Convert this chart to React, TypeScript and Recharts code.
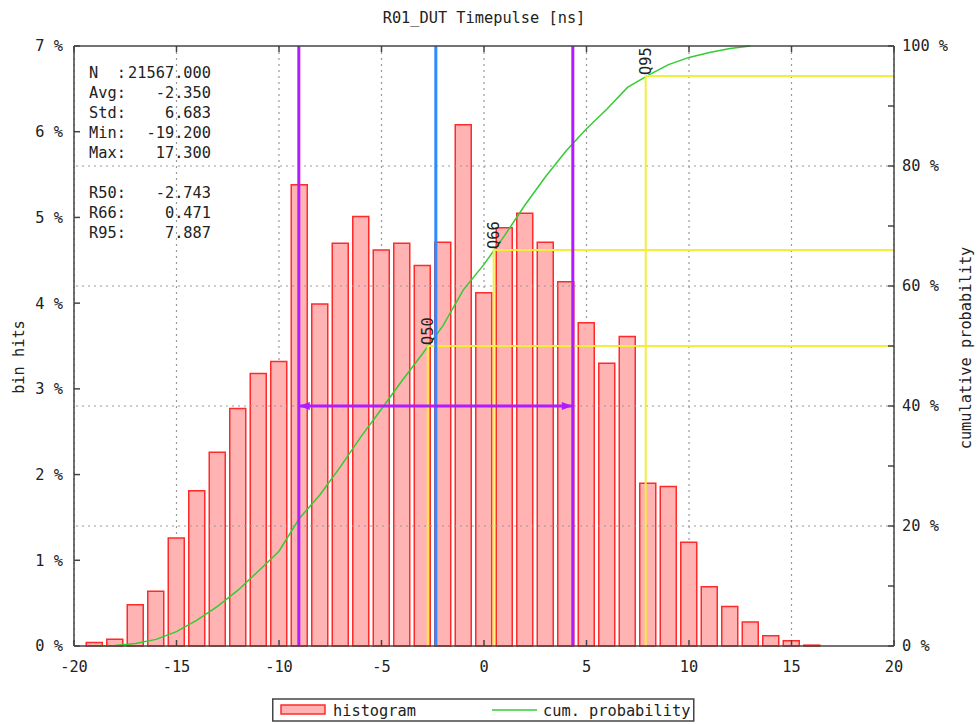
import { ComposedChart, Bar, Line, XAxis, YAxis, CartesianGrid, ReferenceLine, Legend } from "recharts"

const MONO = "DejaVu Sans Mono, monospace"
const FS = 15.3

// histogram bins (bin centre in ns) and hit share in %
const binCenters = [-19, -18, -17, -16, -15, -14, -13, -12, -11, -10, -9, -8, -7, -6, -5, -4, -3, -2, -1, 0, 1, 2, 3, 4, 5, 6, 7, 8, 9, 10, 11, 12, 13, 14, 15, 16]
const binHits = [0.04, 0.08, 0.48, 0.64, 1.26, 1.81, 2.26, 2.77, 3.18, 3.32, 5.38, 3.99, 4.7, 5.01, 4.62, 4.7, 4.44, 4.71, 6.08, 4.12, 4.88, 5.05, 4.71, 4.25, 3.77, 3.3, 3.61, 1.9, 1.86, 1.21, 0.69, 0.46, 0.28, 0.12, 0.06, 0.01]

// cumulative probability curve, %
const cumX = [-19, -18, -17, -16, -15, -14, -13, -12, -11, -10, -9, -8, -7, -6, -5, -4, -3, -2, -1, 0, 1, 2, 3, 4, 5, 6, 7, 8, 9, 10, 11, 12, 13]
const cumProb = [0, 0.1, 0.4, 1.1, 2.4, 4.3, 6.6, 9.3, 12.5, 15.8, 21.3, 25.2, 29.9, 34.9, 39.5, 44.2, 48.7, 53.4, 59.4, 63.6, 68.4, 73.5, 78.2, 82.5, 86.2, 89.5, 93.1, 95.1, 96.9, 98.1, 98.9, 99.6, 100]

const xTicks = [-20, -15, -10, -5, 0, 5, 10, 15, 20]
const hitTicks = [0, 1, 2, 3, 4, 5, 6, 7]
const probTicks = [0, 10, 20, 30, 40, 50, 60, 70, 80, 90, 100]
const probGrid = [20, 40, 60, 80]

const statLabels = ["N  :", "Avg:", "Std:", "Min:", "Max:", "", "R50:", "R66:", "R95:"]
const statValues = ["21567.000", "-2.350", "6.683", "-19.200", "17.300", "", "-2.743", "0.471", "7.887"]

const avgValue = -2.35
const sigmaLow = -9.033
const sigmaHigh = 4.333
const quantileNames = ["Q50", "Q66", "Q95"]
const quantileX = [-2.743, 0.471, 7.887]
const quantileP = [50, 66, 95]

const binData = binCenters.map((x, i) => ({ x, hits: binHits[i] }))
const cumData = cumX.map((x, i) => ({ x, cum: cumProb[i] }))

const PURPLE = "#b01cff"
const BLUE = "#2a8cff"
const YELLOW = "#f3ee3a"
const AXIS = "#444"
const GRID = "#999"

const tickStyle = { fontSize: FS, fill: "#222", fontFamily: MONO }

function ArrowShape(p: any) {
  const { x1, y1, x2, y2 } = p
  const h = 4
  const L = 11
  return (
    <g>
      <line x1={x1} y1={y1} x2={x2} y2={y2} stroke={PURPLE} strokeWidth={3} />
      <polygon points={`${x1},${y1} ${x1 + L},${y1 - h} ${x1 + L},${y1 + h}`} fill={PURPLE} />
      <polygon points={`${x2},${y2} ${x2 - L},${y2 - h} ${x2 - L},${y2 + h}`} fill={PURPLE} />
    </g>
  )
}

const quantileLabel = (name: string) => (props: any) => {
  const vb = props.viewBox || {}
  const x = vb.x + 5
  const y = vb.y - 1
  return (
    <text x={x} y={y} transform={`rotate(-90 ${x} ${y})`} fontSize={FS} fontFamily={MONO} fill="#222">
      {name}
    </text>
  )
}

function LegendBox() {
  return (
    <svg width={423} height={25} style={{ display: "block" }}>
      <rect x={0.75} y={1} width={421} height={22} fill="#fff" stroke={AXIS} strokeWidth={1.5} />
      <rect x={9} y={7} width={44} height={9} fill="#ffb3b3" stroke="#ff2a2a" strokeWidth={1.5} />
      <text x={61} y={17.5} fontSize={FS} fontFamily={MONO} fill="#222">histogram</text>
      <line x1={220} x2={265} y1={12} y2={12} stroke="#33cc33" strokeWidth={1.5} />
      <text x={271} y={17.5} fontSize={FS} fontFamily={MONO} fill="#222">cum. probability</text>
    </svg>
  )
}

export default function App() {
  return (
    <div style={{ position: "absolute", left: 0, top: 0, width: 979, height: 724, background: "#fff" }}>
      <ComposedChart
        width={979}
        height={724}
        data={binData}
        margin={{ top: 45, right: 0, bottom: 48, left: 0 }}
        style={{ fontFamily: MONO }}
      >
        <CartesianGrid horizontal={false} stroke={GRID} strokeDasharray="2 4" strokeWidth={1.2} />
        {probGrid.map((g) => (
          <ReferenceLine key={`g${g}`} yAxisId="right" y={g} stroke={GRID} strokeDasharray="2 4" strokeWidth={1.2} />
        ))}
        <XAxis
          dataKey="x"
          type="number"
          domain={[-20, 20]}
          ticks={xTicks}
          height={30}
          tick={tickStyle}
          tickSize={-6}
          tickMargin={21}
          stroke={AXIS}
          strokeWidth={1.5}
        />
        <XAxis
          xAxisId="top"
          orientation="top"
          dataKey="x"
          type="number"
          domain={[-20, 20]}
          ticks={xTicks}
          height={1}
          tickSize={-6}
          tickFormatter={() => ""}
          stroke={AXIS}
          strokeWidth={1.5}
        />
        <YAxis
          yAxisId="left"
          orientation="left"
          type="number"
          domain={[0, 7]}
          ticks={hitTicks}
          width={74}
          tick={tickStyle}
          tickSize={-6}
          tickMargin={17}
          tickFormatter={(v) => `${v} %`}
          stroke={AXIS}
          strokeWidth={1.5}
        />
        <YAxis
          yAxisId="leftMirror"
          orientation="right"
          type="number"
          domain={[0, 7]}
          ticks={hitTicks}
          width={0}
          tickSize={-6}
          tickFormatter={() => ""}
          stroke={AXIS}
          strokeWidth={1.5}
        />
        <YAxis
          yAxisId="right"
          orientation="right"
          type="number"
          domain={[0, 100]}
          ticks={probTicks}
          width={85}
          tick={tickStyle}
          tickSize={-6}
          tickMargin={14}
          tickFormatter={(v) => (v % 20 === 0 ? `${v} %` : "")}
          stroke={AXIS}
          strokeWidth={1.5}
        />
        <Bar
          yAxisId="left"
          dataKey="hits"
          name="histogram"
          barSize={16}
          fill="#ffb3b3"
          stroke="#ff2a2a"
          strokeWidth={1.5}
          isAnimationActive={false}
        />
        <Line
          yAxisId="right"
          data={cumData}
          dataKey="cum"
          name="cum. probability"
          type="linear"
          stroke="#33cc33"
          strokeWidth={1.5}
          dot={false}
          isAnimationActive={false}
        />
        {quantileX.map((q, i) => (
          <ReferenceLine
            key={`qh${i}`}
            yAxisId="right"
            segment={[{ x: q, y: quantileP[i] }, { x: 20, y: quantileP[i] }]}
            stroke={YELLOW}
            strokeWidth={2}
          />
        ))}
        {quantileX.map((q, i) => (
          <ReferenceLine
            key={`qv${i}`}
            yAxisId="right"
            segment={[{ x: q, y: 0 }, { x: q, y: quantileP[i] }]}
            stroke={YELLOW}
            strokeWidth={2}
            label={quantileLabel(quantileNames[i])}
          />
        ))}
        <ReferenceLine yAxisId="left" x={sigmaLow} stroke={PURPLE} strokeWidth={3} />
        <ReferenceLine yAxisId="left" x={sigmaHigh} stroke={PURPLE} strokeWidth={3} />
        <ReferenceLine yAxisId="left" x={avgValue} stroke={BLUE} strokeWidth={3} />
        <ReferenceLine
          yAxisId="right"
          segment={[{ x: sigmaLow, y: 40 }, { x: sigmaHigh, y: 40 }]}
          shape={ArrowShape}
        />
        <Legend
          layout="horizontal"
          verticalAlign="middle"
          align="center"
          content={() => <LegendBox />}
          wrapperStyle={{ left: 272, top: 698, width: 423, height: 25 }}
        />
        <text x={484} y={23} textAnchor="middle" fontSize={FS} fontFamily={MONO} fill="#222">
          R01_DUT Timepulse [ns]
        </text>
        <text x={24} y={357} transform="rotate(-90 24 357)" textAnchor="middle" fontSize={FS} fontFamily={MONO} fill="#222">
          bin hits
        </text>
        <text x={971} y={348} transform="rotate(-90 971 348)" textAnchor="middle" fontSize={FS} fontFamily={MONO} fill="#222">
          cumulative probability
        </text>
        <g fontSize={FS} fontFamily={MONO} fill="#222">
          {statLabels.map((l, i) => (
            <text key={`sl${i}`} x={89} y={78 + i * 20} style={{ whiteSpace: "pre" }}>
              {l}
            </text>
          ))}
          {statValues.map((v, i) => (
            <text key={`sv${i}`} x={211} y={78 + i * 20} textAnchor="end">
              {v}
            </text>
          ))}
        </g>
      </ComposedChart>
    </div>
  )
}
